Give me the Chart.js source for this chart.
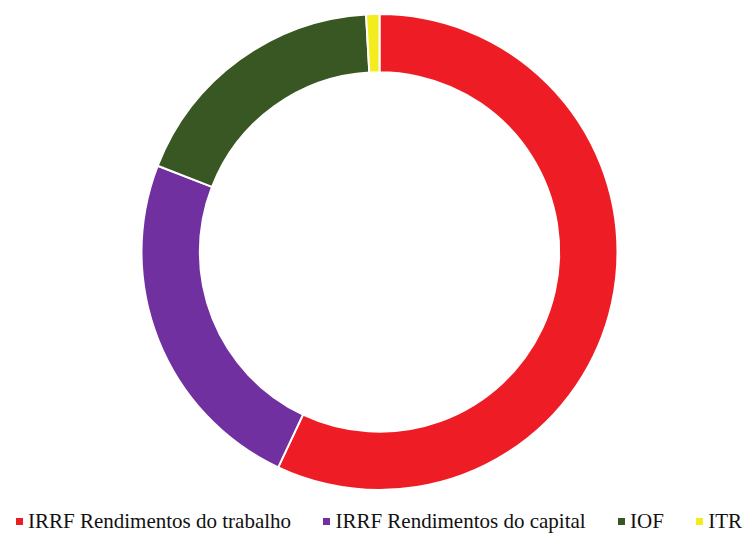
<!DOCTYPE html>
<html>
<head>
<meta charset="utf-8">
<script src="https://cdn.jsdelivr.net/npm/chart.js@4"></script>
<style>
  html, body { margin: 0; padding: 0; background: #fff; }
  #wrap { position: relative; width: 746px; height: 534px; }
  #chartBox { position: absolute; left: 0; top: 0; width: 746px; height: 504px; }
  #legend {
    position: absolute; left: 16px; right: 4px; top: 509px; height: 25px;
    display: flex; justify-content: space-between; align-items: center;
    font-family: 'Liberation Serif', 'Times New Roman', serif; font-size: 21px; color: #111;
  }
  .item { display: flex; align-items: center; white-space: nowrap; }
  .box { width: 7px; height: 7px; margin-right: 5px; }
</style>
</head>
<body>
<div id="wrap">
  <div id="chartBox"><canvas id="taxChart"></canvas></div>
  <div id="legend"></div>
</div>
<script>
// Data (percent share)
const categories = ['IRRF Rendimentos do trabalho', 'IRRF Rendimentos do capital', 'IOF', 'ITR'];
const shares = [57.0, 23.9, 18.2, 0.9];
const colors = ['#EE1C25', '#7030A0', '#385723', '#F3EC1E'];

const ctx = document.getElementById('taxChart').getContext('2d');
new Chart(ctx, {
    type: 'doughnut',
    data: {
        labels: categories,
        datasets: [{
            data: shares,
            backgroundColor: colors,
            borderColor: '#ffffff',
            borderWidth: 2
        }]
    },
    options: {
        responsive: true,
        maintainAspectRatio: false,
        animation: false,
        radius: 238,
        cutout: '75.5%',
        layout: { padding: { left: 13 } },
        plugins: {
            legend: { display: false },
            tooltip: { enabled: false }
        }
    }
});

// Legend under the chart
const legend = document.getElementById('legend');
categories.forEach((name, i) => {
    const item = document.createElement('div');
    item.className = 'item';
    const box = document.createElement('span');
    box.className = 'box';
    box.style.background = colors[i];
    const label = document.createElement('span');
    label.textContent = name;
    item.appendChild(box);
    item.appendChild(label);
    legend.appendChild(item);
});
</script>
</body>
</html>
